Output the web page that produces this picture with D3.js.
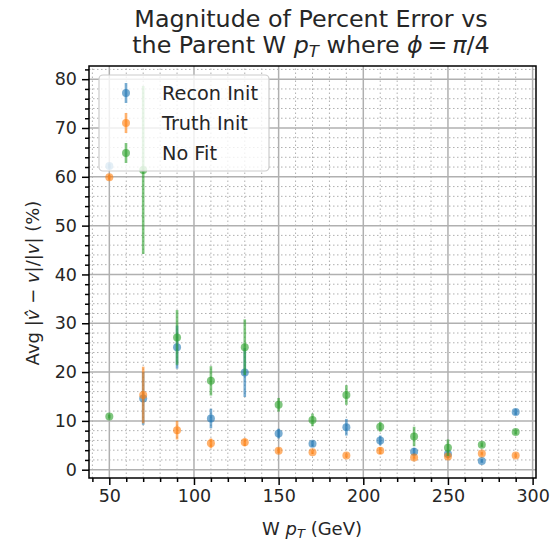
<!DOCTYPE html>
<html>
<head>
  <meta charset="utf-8">
  <script src="https://d3js.org/d3.v7.min.js"></script>
  <style>
    body { margin: 0; background: #fff; font-family: "DejaVu Sans", sans-serif; }
    svg text { fill: #262626; }
  </style>
</head>
<body>
  <div id="chart"></div>
  <script>
    // W pT bins (GeV)
    var ptBins = [50, 70, 90, 110, 130, 150, 170, 190, 210, 230, 250, 270, 290];

    var reconInit = [62.2, 14.6, 25.1, 10.5, 19.9, 7.4, 5.3, 8.7, 6.0, 3.7, 3.2, 1.8, 11.8];
    var reconErr = [0.5, 5.4, 4.4, 2.0, 5.0, 1.0, 0.6, 1.7, 1.0, 0.8, 0.5, 0.4, 0.6];

    var truthInit = [59.9, 15.3, 8.1, 5.4, 5.6, 3.9, 3.6, 2.9, 3.9, 2.5, 2.7, 3.3, 2.9];
    var truthErr = [0.5, 5.8, 1.9, 1.0, 0.8, 0.5, 0.4, 0.4, 0.7, 0.4, 0.4, 0.4, 0.4];

    var noFit = [10.9, 61.4, 27.1, 18.2, 25.1, 13.3, 10.2, 15.3, 8.8, 6.8, 4.5, 5.1, 7.7];
    var noFitErr = [0.4, 17.2, 5.6, 3.0, 5.7, 1.4, 1.3, 2.0, 1.0, 2.0, 1.7, 0.5, 0.5];

    var seriesNames = ["Recon Init", "Truth Init", "No Fit"];
    var seriesColors = ["#1f77b4", "#ff7f0e", "#2ca02c"];

    var xTicks = [50, 100, 150, 200, 250, 300];
    var yTicks = [0, 10, 20, 30, 40, 50, 60, 70, 80];

    var width = 554, height = 544;
    var margin = {top: 66, right: 18, bottom: 66, left: 89};
    var alpha = 0.6;

    var svg = d3.select("#chart").append("svg")
      .attr("width", width)
      .attr("height", height);

    var x = d3.scaleLinear().domain([38, 302]).range([margin.left, width - margin.right]);
    var y = d3.scaleLinear().domain([-1.7, 82.7]).range([height - margin.bottom, margin.top]);

    var xMinor = d3.range(40, 301, 10).filter(v => xTicks.indexOf(v) < 0);
    var yMinor = d3.range(0, 83, 2).filter(v => yTicks.indexOf(v) < 0);

    var grid = svg.append("g");
    // minor grid (dotted)
    grid.selectAll(".xm").data(xMinor).enter().append("line")
      .attr("x1", d => x(d)).attr("x2", d => x(d))
      .attr("y1", y.range()[0]).attr("y2", y.range()[1])
      .attr("stroke", "#b0b0b0").attr("stroke-width", 1).attr("stroke-dasharray", "1.5,2.5");
    grid.selectAll(".ym").data(yMinor).enter().append("line")
      .attr("y1", d => y(d)).attr("y2", d => y(d))
      .attr("x1", x.range()[0]).attr("x2", x.range()[1])
      .attr("stroke", "#b0b0b0").attr("stroke-width", 1).attr("stroke-dasharray", "1.5,2.5");
    // major grid
    grid.selectAll(".xM").data(xTicks).enter().append("line")
      .attr("x1", d => x(d)).attr("x2", d => x(d))
      .attr("y1", y.range()[0]).attr("y2", y.range()[1])
      .attr("stroke", "#b0b0b0").attr("stroke-width", 1.5);
    grid.selectAll(".yM").data(yTicks).enter().append("line")
      .attr("y1", d => y(d)).attr("y2", d => y(d))
      .attr("x1", x.range()[0]).attr("x2", x.range()[1])
      .attr("stroke", "#b0b0b0").attr("stroke-width", 1.5);

    // data series
    var series = [
      {vals: reconInit, errs: reconErr},
      {vals: truthInit, errs: truthErr},
      {vals: noFit, errs: noFitErr}
    ];

    var plot = svg.append("g");
    series.forEach(function (s, i) {
      var pts = ptBins.map((p, j) => ({x: p, v: s.vals[j], e: s.errs[j]}));
      var g = plot.append("g");
      g.selectAll("line").data(pts).enter().append("line")
        .attr("x1", d => x(d.x)).attr("x2", d => x(d.x))
        .attr("y1", d => y(d.v - d.e)).attr("y2", d => y(d.v + d.e))
        .attr("stroke", seriesColors[i]).attr("stroke-width", 2.6)
        .attr("stroke-opacity", alpha);
      g.selectAll("circle").data(pts).enter().append("circle")
        .attr("cx", d => x(d.x)).attr("cy", d => y(d.v)).attr("r", 4)
        .attr("fill", seriesColors[i]).attr("fill-opacity", alpha);
    });

    // axes
    var xAxis = d3.axisBottom(x).tickValues(xTicks).tickSize(7).tickPadding(5).tickFormat(d3.format("d"));
    var yAxis = d3.axisLeft(y).tickValues(yTicks).tickSize(7).tickPadding(5).tickFormat(d3.format("d"));

    var gx = svg.append("g").attr("transform", "translate(0," + (height - margin.bottom) + ")").call(xAxis);
    var gy = svg.append("g").attr("transform", "translate(" + margin.left + ",0)").call(yAxis);

    svg.append("g").attr("transform", "translate(0," + (height - margin.bottom) + ")")
      .call(d3.axisBottom(x).tickValues(xMinor).tickSize(4).tickFormat(""))
      .select(".domain").remove();
    svg.append("g").attr("transform", "translate(" + margin.left + ",0)")
      .call(d3.axisLeft(y).tickValues(yMinor).tickSize(4).tickFormat(""))
      .select(".domain").remove();

    svg.selectAll(".tick line").attr("stroke", "#000").attr("stroke-width", 1.5);
    [gx, gy].forEach(g => {
      g.select(".domain").remove();
      g.selectAll("text").attr("font-size", 17.5).attr("font-family", "DejaVu Sans").style("fill", "#262626");
    });

    // frame
    svg.append("rect")
      .attr("x", margin.left).attr("y", margin.top)
      .attr("width", width - margin.left - margin.right)
      .attr("height", height - margin.top - margin.bottom)
      .attr("fill", "none").attr("stroke", "#000").attr("stroke-width", 1.5);

    // legend
    var leg = svg.append("g");
    leg.append("rect")
      .attr("x", 99).attr("y", 75).attr("width", 170).attr("height", 96)
      .attr("rx", 4)
      .attr("fill", "#fff").attr("fill-opacity", 0.8)
      .attr("stroke", "#cccccc").attr("stroke-width", 1.2);
    seriesNames.forEach(function (name, i) {
      var cy = 93 + i * 30;
      leg.append("line")
        .attr("x1", 126).attr("x2", 126).attr("y1", cy - 10).attr("y2", cy + 10)
        .attr("stroke", seriesColors[i]).attr("stroke-width", 2.6).attr("stroke-opacity", alpha);
      leg.append("circle").attr("cx", 126).attr("cy", cy).attr("r", 4)
        .attr("fill", seriesColors[i]).attr("fill-opacity", alpha);
      leg.append("text").attr("x", 162).attr("y", cy + 7)
        .attr("font-size", 19.3).text(name);
    });

    // title
    var title = svg.append("text").attr("text-anchor", "middle").attr("font-size", 23.8);
    title.append("tspan").attr("x", 311).attr("y", 27).text("Magnitude of Percent Error vs");
    var t2 = title.append("tspan").attr("x", 311).attr("y", 53);
    t2.append("tspan").text("the Parent W ");
    t2.append("tspan").attr("font-style", "italic").text("p");
    t2.append("tspan").attr("font-style", "italic").attr("font-size", 16.5).attr("dy", 4).text("T");
    t2.append("tspan").attr("dy", -4).text(" where ");
    t2.append("tspan").attr("font-style", "italic").text("ϕ");
    t2.append("tspan").text("\u2009=\u2009");
    t2.append("tspan").attr("font-style", "italic").text("π");
    t2.append("tspan").text("/4");

    // x label
    var xl = svg.append("text").attr("text-anchor", "middle").attr("font-size", 18)
      .attr("x", 312).attr("y", 535);
    xl.append("tspan").text("W ");
    xl.append("tspan").attr("font-style", "italic").text("p");
    xl.append("tspan").attr("font-style", "italic").attr("font-size", 13).attr("dy", 3).text("T");
    xl.append("tspan").attr("dy", -3).text(" (GeV)");

    // y label
    var yl = svg.append("text").attr("text-anchor", "middle").attr("font-size", 18)
      .attr("transform", "translate(39,283) rotate(-90)");
    yl.append("tspan").text("Avg |");
    yl.append("tspan").attr("font-style", "italic").text("v\u0302");
    yl.append("tspan").text(" \u2212 ");
    yl.append("tspan").attr("font-style", "italic").text("v");
    yl.append("tspan").text("|/|");
    yl.append("tspan").attr("font-style", "italic").text("v");
    yl.append("tspan").text("| (%)");
  </script>
</body>
</html>
